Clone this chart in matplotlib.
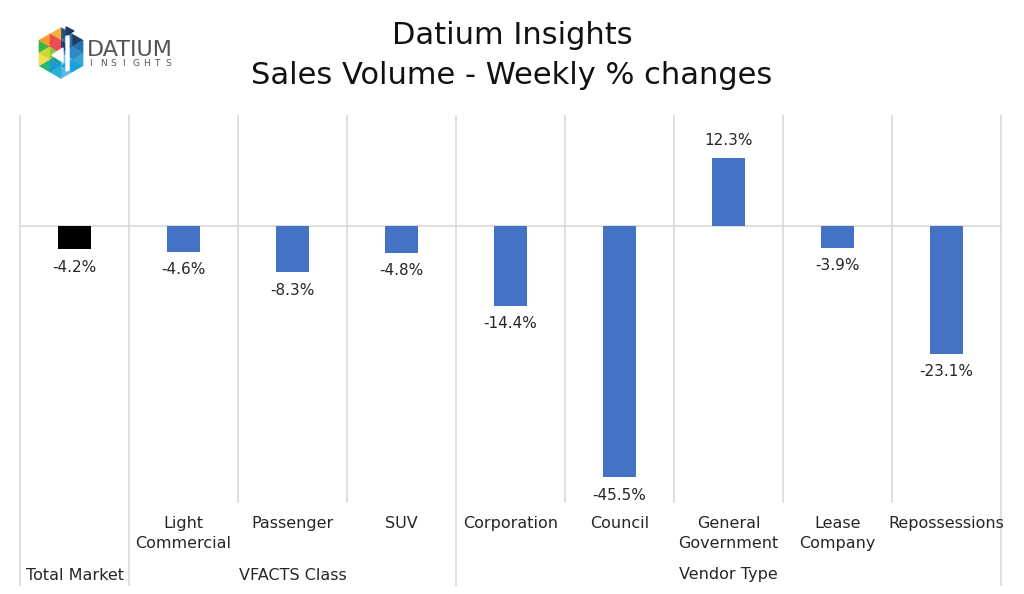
import matplotlib
matplotlib.use("Agg")
import matplotlib.pyplot as plt
from matplotlib.patches import Polygon
import numpy as np

plt.rcParams['font.family'] = ['DejaVu Sans']

categories = ["Total Market", "Light\nCommercial", "Passenger", "SUV", "Corporation",
              "Council", "General\nGovernment", "Lease\nCompany", "Repossessions"]
values = [-4.2, -4.6, -8.3, -4.8, -14.4, -45.5, 12.3, -3.9, -23.1]
value_labels = ["-4.2%", "-4.6%", "-8.3%", "-4.8%", "-14.4%", "-45.5%", "12.3%", "-3.9%", "-23.1%"]
groups = [("Total Market", 0, 0), ("VFACTS Class", 1, 3), ("Vendor Type", 4, 8)]
colors = ["#000000"] + ["#4472C4"] * 8

W, H = 1024, 594
fig = plt.figure(figsize=(W / 100, H / 100), dpi=100)
ax = fig.add_axes([20 / W, 1 - 502 / H, (1001 - 20) / W, (502 - 116) / H])

x = np.arange(len(values))
ax.bar(x, values, width=0.31, color=colors, zorder=3)
ax.set_xlim(-0.5, len(values) - 0.5)
ax.set_ylim(-50, 20)
ax.axhline(0, color="#d9d9d9", lw=1.2, zorder=2)
for s in ax.spines.values():
    s.set_visible(False)
ax.set_xticks([])
ax.set_yticks([])

grid_col = "#d9d9d9"
group_bounds = set()
for name, a, b in groups:
    group_bounds.add(a - 0.5)
    group_bounds.add(b + 0.5)
ext = -(585 - 502) / 386
for i in range(len(values) + 1):
    xb = i - 0.5
    y0 = ext if xb in group_bounds else 0
    ax.plot([xb, xb], [y0, 1], color=grid_col, lw=1.2,
            transform=ax.get_xaxis_transform(), clip_on=False, zorder=1)

# value labels
for xi, v, lab in zip(x, values, value_labels):
    off = 13 if v >= 0 else -13
    ax.annotate(lab, (xi, v), xytext=(0, off), textcoords="offset points",
                ha="center", va="center", fontsize=11, color="#262626")

# category labels
for i, lab in enumerate(categories):
    if i == 0:
        continue
    ax.text(i, -(516 - 502) / 386, lab, transform=ax.get_xaxis_transform(),
            ha="center", va="top", fontsize=11.5, color="#262626", linespacing=1.4)
for name, a, b in groups:
    ax.text((a + b) / 2, -(575 - 502) / 386, name, transform=ax.get_xaxis_transform(),
            ha="center", va="center", fontsize=11.5, color="#262626")

# title
fig.text(512 / W, 1 - 35 / H, "Datium Insights", ha="center", va="center", fontsize=22, color="#111111")
fig.text(512 / W, 1 - 75 / H, "Sales Volume - Weekly % changes", ha="center", va="center", fontsize=22, color="#111111")

# logo
lg = fig.add_axes([0, 0, 1, 1], facecolor="none")
lg.set_xlim(0, W)
lg.set_ylim(H, 0)
lg.axis("off")
cx, cy, r = 61, 53, 25.5
verts = [(cx + r * np.cos(np.radians(a)), cy - r * np.sin(np.radians(a))) for a in [90, 30, -30, -90, -150, 150]]
sector_cols = [
    ["#1F3B63", "#24507F", "#1F3B63", "#2E6FA8"],
    ["#2B8CC4", "#1E73B3", "#3BA3D8", "#2B8CC4"],
    ["#7CC6EE", "#1DA1DB", "#5BB8E8", "#1DA1DB"],
    ["#1FA3A0", "#27B0D8", "#2BB673", "#1C9AD6"],
    ["#8DC63F", "#F4E04D", "#3AB54A", "#C9D93A"],
    ["#EF4B5A", "#F89B2A", "#F6B03A", "#E94E4E"],
]
c = np.array([cx, cy])
for k in range(6):
    p1 = np.array(verts[k]); p2 = np.array(verts[(k + 1) % 6])
    m1 = (c + p1) / 2; m2 = (c + p2) / 2; m3 = (p1 + p2) / 2
    tris = [[c, m1, m2], [m1, p1, m3], [m2, m3, p2], [m1, m3, m2]]
    for t, col in zip(tris, sector_cols[k]):
        lg.add_patch(Polygon(t, closed=True, facecolor=col, edgecolor=col, lw=0.3))
# white "d"
lg.add_patch(Polygon([(52, 55), (63, 48), (63, 62)], closed=True, facecolor="white", edgecolor="white"))
lg.add_patch(Polygon([(66, 36), (69, 36), (69, 70), (66, 71)], closed=True, facecolor="white", edgecolor="white"))
lg.add_patch(Polygon([(66, 27), (74, 31), (66, 35)], closed=True, facecolor="#1F3B63", edgecolor="#1F3B63"))
lg.text(87, 50, "DATIUM", fontsize=16, color="#555557", ha="left", va="center")
for j, ch in enumerate("INSIGHTS"):
    lg.text(89 + j * 10.9, 64, ch, fontsize=6.5, color="#555557", ha="left", va="center")

fig.savefig("out.png", dpi=100)
